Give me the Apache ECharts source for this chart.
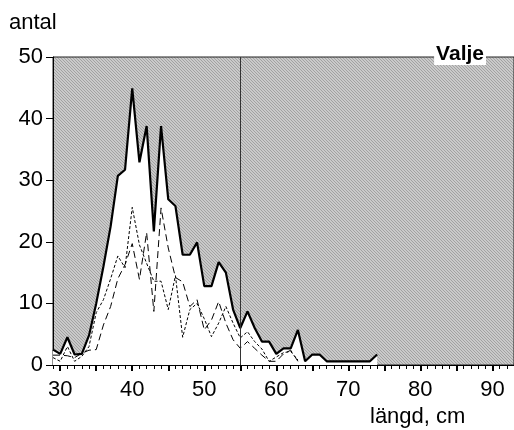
<!DOCTYPE html>
<html>
<head>
<meta charset="utf-8">
<script src="https://cdn.jsdelivr.net/npm/echarts@6/dist/echarts.min.js"></script>
<style>
html, body { margin: 0; padding: 0; background: #fff; }
#chart { width: 514px; height: 430px; }
</style>
</head>
<body>
<div id="chart"></div>
<script>
// längdklasser (cm)
const langd = [29, 30, 31, 32, 33, 34, 35, 36, 37, 38, 39, 40, 41, 42, 43, 44, 45, 46, 47, 48, 49, 50,
    51, 52, 53, 54, 55, 56, 57, 58, 59, 60, 61, 62, 63, 64, 65, 66, 67, 68, 69, 70, 71, 72, 73, 74];
// totalt antal (tjock linje)
const total = [2.5, 1.8, 4.5, 1.7, 1.8, 4.8, 10, 16, 22.5, 30.7, 31.7, 44.9, 32.9, 38.8, 21.7, 38.8, 26.9, 25.8,
    17.9, 17.9, 19.9, 12.8, 12.8, 16.7, 15, 9, 6, 8.7, 6, 3.8, 3.8, 1.8, 2.7, 2.7, 5.7, 0.6, 1.7, 1.7,
    0.6, 0.6, 0.6, 0.6, 0.6, 0.6, 0.6, 1.7];
// långa streck (29-63 cm)
const serieA = [1.6, 1.6, 1.5, 1.2, 1.9, 2.4, 2.5, 6.5, 9.5, 14, 16.3, 19.7, 13.9, 21.5, 8.7, 25.5, 19, 14.2,
    13.5, 9.5, 10.6, 5.7, 7.3, 10.3, 6.8, 4.1, 2.7, 3.8, 2.7, 1.6, 0.6, 0.6, 1.8, 2.4, 0.6];
// korta streck (29-63 cm)
const serieB = [1.2, 0.6, 3, 0.6, 1.4, 3, 8.5, 10.6, 14, 17.7, 15.8, 25.6, 19.5, 16.5, 13.6, 13.6, 9, 14.5,
    4.5, 9, 10, 7.5, 4.6, 6.8, 9.5, 6.8, 4.4, 5.4, 3.8, 2.6, 0.6, 1.3, 2, 2.2, 0.8];

const xLabels = [30, 40, 50, 60, 70, 80, 90];
const xMajor = [30, 35, 40, 45, 50, 55, 60, 65, 70, 75, 80, 85, 90];
const xMinor = [29, 30, 31, 32, 33, 34, 35, 36, 37, 38, 39, 40, 41, 42, 43, 44, 45, 46, 47, 48, 49, 50,
    51, 52, 53, 54, 55, 56, 57, 58, 59, 60, 61, 62, 63, 64, 65, 66, 67, 68, 69, 70, 71, 72, 73, 74, 75,
    76, 77, 78, 79, 80, 81, 82, 83, 84, 85, 86, 87, 88, 89, 90, 91, 92, 93];
const markerLangd = 55;

// grå streckad bakgrund
function hatch() {
    let c = document.createElement('canvas');
    c.width = 3;
    c.height = 3;
    let ctx = c.getContext('2d');
    ctx.fillStyle = '#cacaca';
    ctx.fillRect(0, 0, 3, 3);
    ctx.fillStyle = '#a2a2a2';
    for (let i = 0; i < 3; i++) {
        ctx.fillRect(i, i, 1, 1);
    }
    return c;
}

const pairs = (arr) => arr.map((v, i) => [langd[i], v]);
const font = 'Liberation Sans, Arial, sans-serif';

const chart = echarts.init(document.getElementById('chart'), null, { renderer: 'canvas' });
chart.setOption({
    animation: false,
    grid: {
        left: 53, top: 57, width: 461, height: 308,
        show: true,
        backgroundColor: { image: hatch(), repeat: 'repeat' },
        borderColor: '#222', borderWidth: 1
    },
    title: {
        text: 'Valje',
        right: 28, top: 44,
        padding: [0, 2],
        backgroundColor: '#fff',
        textStyle: { fontFamily: font, fontSize: 21, fontWeight: 'bold', color: '#000' }
    },
    graphic: [
        { type: 'text', left: 9, top: 12, style: { text: 'antal', font: '22px ' + font, fill: '#000' } },
        { type: 'text', left: 370, top: 406, style: { text: 'längd, cm', font: '22px ' + font, fill: '#000' } }
    ],
    xAxis: [{
        type: 'value', min: 29, max: 93,
        axisLine: { lineStyle: { color: '#000', width: 1 } },
        splitLine: { show: false },
        axisTick: { customValues: xMinor, length: 4, lineStyle: { color: '#000', width: 1 } },
        axisLabel: { customValues: xLabels, margin: 14, fontFamily: font, fontSize: 22, color: '#000' }
    }, {
        type: 'value', min: 29, max: 93, position: 'bottom', offset: 0,
        axisLine: { show: false },
        splitLine: { show: false },
        axisTick: { customValues: xMajor, length: 6, lineStyle: { color: '#000', width: 2 } },
        axisLabel: { show: false }
    }],
    yAxis: {
        type: 'value', min: 0, max: 50, interval: 10,
        axisLine: { show: true, lineStyle: { color: '#000', width: 1 } },
        splitLine: { show: false },
        axisTick: { show: true, length: 7, lineStyle: { color: '#000' } },
        axisLabel: { margin: 10, fontFamily: font, fontSize: 22, color: '#000' }
    },
    series: [{
        type: 'line', data: pairs(total), symbol: 'none',
        lineStyle: { color: '#000', width: 2.2 },
        areaStyle: { color: '#fff', opacity: 1 },
        z: 2
    }, {
        type: 'line', data: pairs(serieA), symbol: 'none',
        lineStyle: { color: '#000', width: 1, type: [7, 4] },
        z: 3
    }, {
        type: 'line', data: pairs(serieB), symbol: 'none',
        lineStyle: { color: '#000', width: 1, type: [3, 2] },
        z: 3,
        markLine: {
            silent: true, symbol: 'none', label: { show: false },
            lineStyle: { color: '#333', width: 1, type: 'solid' },
            data: [{ xAxis: markerLangd }]
        }
    }]
});
</script>
</body>
</html>
